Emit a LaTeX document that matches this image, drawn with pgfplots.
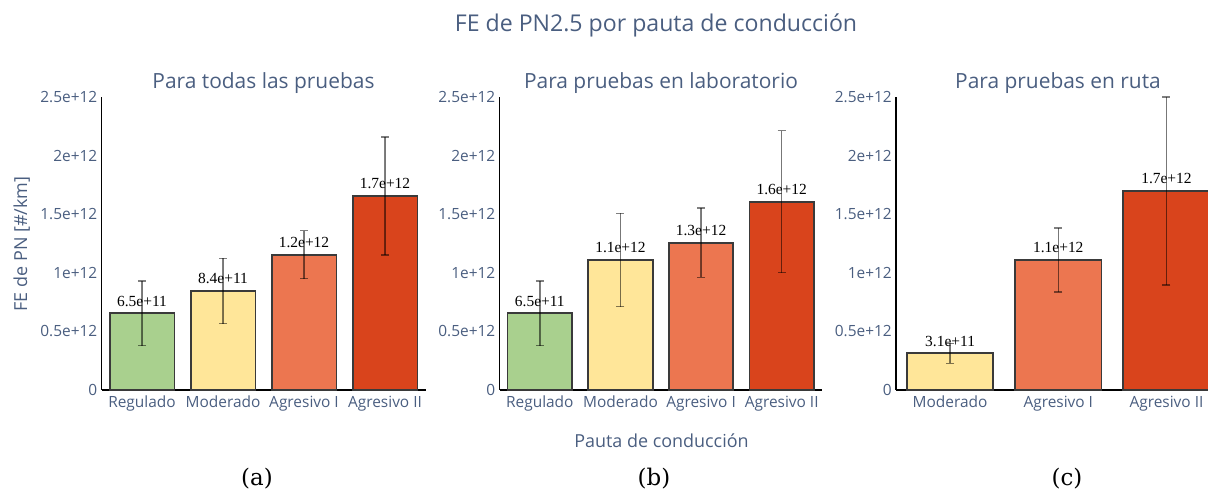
\documentclass[border=0pt]{standalone}
\usepackage{pgfplots}
\pgfplotsset{compat=1.18}
\usepackage{fontspec}
\setmainfont{Open Sans}
\newfontfamily\timesf{Liberation Serif}
\newfontfamily\capf{DejaVu Serif}
\definecolor{txt}{HTML}{4A5E80}
\definecolor{cgreen}{HTML}{A9D08E}
\definecolor{cyellow}{HTML}{FFE699}
\definecolor{corange}{HTML}{EC7650}
\definecolor{cred}{HTML}{D9441C}
\definecolor{bedge}{HTML}{3A3A3A}
\begin{document}
\begin{tikzpicture}[x=1bp,y=1bp]
\path[use as bounding box] (0bp,0bp) rectangle (1208bp,493bp);
\pgfplotsset{
  panel/.style={
    scale only axis, height=293bp, ybar, bar width=0.8, bar shift=0pt,
    ymin=0, ymax=2.5, ytick={0,0.5,1,1.5,2,2.5},
    yticklabels={0,0.5e+12,1e+12,1.5e+12,2e+12,2.5e+12},
    axis lines=left, axis line style={-, black, line width=1.2bp},
    major tick length=0pt, tick style={draw=none},
    tick label style={font=\fontsize{15.5}{15.5}\selectfont, text=txt},
    yticklabel style={anchor=east, inner sep=0pt, xshift=-4bp},
    xticklabel style={anchor=base, inner sep=0pt, yshift=-18bp},
    clip=false,
    every node near coord/.append style={font=\timesf\fontsize{15.5}{15.5}\selectfont, text=black, anchor=south, inner sep=0pt, yshift=6bp},
    error bars/error bar style={black, opacity=0.5, line width=1.5bp},
    error bars/error mark options={rotate=90, mark size=4bp, line width=1.5bp, black, opacity=0.5},
    every axis plot/.append style={draw=bedge, line width=1.8bp},
  }
}
% Panel (a)
\begin{axis}[panel, at={(101.5bp,103bp)}, anchor=south west, width=324bp,
  xmin=-0.5, xmax=3.5, xtick={0,1,2,3},
  xticklabels={Regulado,Moderado,Agresivo I,Agresivo II}]
\addplot[fill=cgreen, draw=bedge, line width=1.8bp, nodes near coords={6.5e+11}, error bars/.cd, y dir=both, y explicit] coordinates {(0,0.654) +- (0,0.276)};
\addplot[fill=cyellow, draw=bedge, line width=1.8bp, nodes near coords={8.4e+11}, error bars/.cd, y dir=both, y explicit] coordinates {(1,0.845) +- (0,0.278)};
\addplot[fill=corange, draw=bedge, line width=1.8bp, nodes near coords={1.2e+12}, error bars/.cd, y dir=both, y explicit] coordinates {(2,1.155) +- (0,0.205)};
\addplot[fill=cred, draw=bedge, line width=1.8bp, nodes near coords={1.7e+12}, error bars/.cd, y dir=both, y explicit] coordinates {(3,1.655) +- (0,0.505)};
\end{axis}
% Panel (b)
\begin{axis}[panel, at={(499.5bp,103bp)}, anchor=south west, width=322.5bp,
  xmin=-0.5, xmax=3.5, xtick={0,1,2,3},
  xticklabels={Regulado,Moderado,Agresivo I,Agresivo II}]
\addplot[fill=cgreen, draw=bedge, line width=1.8bp, nodes near coords={6.5e+11}, error bars/.cd, y dir=both, y explicit] coordinates {(0,0.654) +- (0,0.276)};
\addplot[fill=cyellow, draw=bedge, line width=1.8bp, nodes near coords={1.1e+12}, error bars/.cd, y dir=both, y explicit] coordinates {(1,1.109) +- (0,0.398)};
\addplot[fill=corange, draw=bedge, line width=1.8bp, nodes near coords={1.3e+12}, error bars/.cd, y dir=both, y explicit] coordinates {(2,1.257) +- (0,0.296)};
\addplot[fill=cred, draw=bedge, line width=1.8bp, nodes near coords={1.6e+12}, error bars/.cd, y dir=both, y explicit] coordinates {(3,1.607) +- (0,0.606)};
\end{axis}
% Panel (c)
\begin{axis}[panel, at={(896bp,103bp)}, anchor=south west, width=312bp,
  xmin=-0.5, xmax=2.384, xtick={0,1,2},
  xticklabels={Moderado,Agresivo I,Agresivo II}]
\addplot[fill=cyellow, draw=bedge, line width=1.8bp, nodes near coords={3.1e+11}, error bars/.cd, y dir=both, y explicit] coordinates {(0,0.313) +- (0,0.085)};
\addplot[fill=corange, draw=bedge, line width=1.8bp, nodes near coords={1.1e+12}, error bars/.cd, y dir=both, y explicit] coordinates {(1,1.109) +- (0,0.274)};
\addplot[fill=cred, draw=bedge, line width=1.8bp, nodes near coords={1.7e+12}, error bars/.cd, y dir=both, y explicit] coordinates {(2,1.698) +- (0,0.804)};
\end{axis}
% Texts
\node[anchor=base, text=txt, font=\fontsize{23.2}{23.2}\selectfont] at (656bp,461bp) {FE de PN2.5 por pauta de conducción};
\node[anchor=base, text=txt, font=\fontsize{21}{21}\selectfont] at (263.5bp,404bp) {Para todas las pruebas};
\node[anchor=base, text=txt, font=\fontsize{21}{21}\selectfont] at (661bp,404bp) {Para pruebas en laboratorio};
\node[anchor=base, text=txt, font=\fontsize{21}{21}\selectfont] at (1058bp,404bp) {Para pruebas en ruta};
\node[anchor=base, rotate=90, text=txt, font=\fontsize{18}{18}\selectfont] at (27bp,249bp) {FE de PN [\#/km]};
\node[anchor=base, text=txt, font=\fontsize{18}{18}\selectfont] at (661.5bp,45bp) {Pauta de conducción};
\node[anchor=base, font=\capf\fontsize{23}{23}\selectfont] at (257bp,8bp) {(a)};
\node[anchor=base, font=\capf\fontsize{23}{23}\selectfont] at (654bp,8bp) {(b)};
\node[anchor=base, font=\capf\fontsize{23}{23}\selectfont] at (1067bp,8bp) {(c)};
\end{tikzpicture}
\end{document}
